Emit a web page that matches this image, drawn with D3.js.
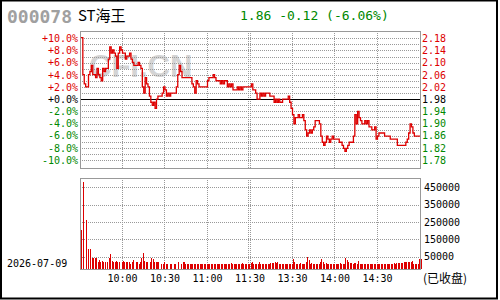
<!DOCTYPE html>
<html>
<head>
<meta charset="utf-8">
<script src="https://cdn.jsdelivr.net/npm/d3@7"></script>
<style>
  html, body { margin: 0; padding: 0; background: #fff; }
  svg { display: block; }
  text { font-family: "DejaVu Sans Mono", "Liberation Mono", monospace; }
</style>
</head>
<body>
<svg id="chart" width="500" height="300"></svg>
<script>
// quote header
const stockCode = '000078';
const stockName = 'ST海王';
const quoteText = '1.86 -0.12 (-6.06%)';
const tradeDate = '2026-07-09';
const prevClose = 1.98;

// time axis (minute index from 9:30, 241 minutes)
const timeLabels = ['10:00', '10:30', '11:00', '11:30', '13:30', '14:00', '14:30'];
const timeTickIdx = [30, 60, 90, 120, 150, 180, 210];

// price axis ticks
const pctTicks = [10, 8, 6, 4, 2, 0, -2, -4, -6, -8, -10];
const pctLabels = ['+10.0%', '+8.0%', '+6.0%', '+4.0%', '+2.0%', '+0.0%', '-2.0%', '-4.0%', '-6.0%', '-8.0%', '-10.0%'];
const priceLabels = ['2.18', '2.14', '2.10', '2.06', '2.02', '1.98', '1.94', '1.90', '1.86', '1.82', '1.78'];

// volume axis ticks
const volTicks = [450000, 350000, 250000, 150000, 50000];

// minute prices, 9:30 .. 11:30, 13:01 .. 15:00
const prices = [
  2.18, 2.18, 2.06, 2.03, 2.02, 2.02, 2.06, 2.07, 2.09, 2.06,
  2.06, 2.05, 2.08, 2.06, 2.05, 2.04, 2.08, 2.07, 2.08, 2.08,
  2.11, 2.15, 2.13, 2.14, 2.13, 2.12, 2.08, 2.13, 2.15, 2.14,
  2.13, 2.13, 2.11, 2.12, 2.12, 2.13, 2.11, 2.10, 2.09, 2.09,
  2.09, 2.10, 2.09, 2.08, 2.02, 2.00, 2.05, 2.03, 2.02, 1.99,
  1.97, 1.96, 1.97, 1.95, 1.98, 1.99, 1.99, 1.99, 2.00, 2.02,
  2.01, 1.99, 2.00, 1.99, 2.00, 2.00, 2.00, 2.00, 2.02, 2.06,
  2.09, 2.07, 2.05, 2.05, 2.05, 2.05, 2.05, 2.05, 2.05, 2.03,
  2.02, 2.00, 2.04, 2.03, 2.02, 2.02, 2.02, 2.02, 2.02, 2.02,
  2.04, 2.05, 2.05, 2.05, 2.06, 2.05, 2.04, 2.04, 2.04, 2.03,
  2.04, 2.03, 2.04, 2.04, 2.02, 2.03, 2.02, 2.03, 2.01, 2.01,
  2.01, 2.02, 2.01, 2.02, 2.01, 2.02, 2.02, 2.02, 2.02, 2.02,
  2.02, 2.03, 2.01, 2.01, 2.00, 1.98, 1.98, 2.00, 1.99, 2.00,
  1.99, 2.00, 2.00, 2.00, 1.99, 1.99, 1.99, 1.97, 1.98, 1.97,
  1.98, 1.97, 1.97, 1.98, 1.98, 1.98, 1.98, 1.99, 1.97, 1.95,
  1.93, 1.90, 1.92, 1.92, 1.93, 1.92, 1.92, 1.93, 1.91, 1.88,
  1.86, 1.87, 1.88, 1.87, 1.88, 1.89, 1.91, 1.91, 1.91, 1.90,
  1.86, 1.84, 1.83, 1.84, 1.86, 1.85, 1.84, 1.85, 1.86, 1.85,
  1.85, 1.85, 1.85, 1.84, 1.84, 1.83, 1.82, 1.81, 1.82, 1.83,
  1.84, 1.84, 1.84, 1.86, 1.93, 1.90, 1.94, 1.92, 1.91, 1.90,
  1.90, 1.91, 1.90, 1.91, 1.89, 1.89, 1.88, 1.88, 1.89, 1.85,
  1.86, 1.87, 1.87, 1.87, 1.87, 1.86, 1.86, 1.86, 1.86, 1.85,
  1.85, 1.85, 1.85, 1.85, 1.83, 1.83, 1.83, 1.83, 1.83, 1.83,
  1.84, 1.85, 1.87, 1.90, 1.89, 1.87, 1.86, 1.86, 1.86, 1.86,
  1.86
];

// minute volumes (shares)
const volumes = [
  204000, 0, 480000, 0, 261000, 93000, 0, 93000, 45000, 45000,
  42000, 45000, 22000, 33000, 22000, 27000, 22000, 18000, 0, 22000,
  45000, 68000, 27000, 22000, 22000, 27000, 18000, 18000, 0, 22000,
  27000, 18000, 18000, 18000, 18000, 10000, 22000, 33000, 0, 22000,
  22000, 10000, 22000, 45000, 73000, 27000, 18000, 18000, 0, 22000,
  45000, 39000, 22000, 18000, 18000, 18000, 0, 10000, 10000, 18000,
  10000, 10000, 0, 10000, 10000, 0, 10000, 10000, 0, 18000,
  0, 10000, 18000, 22000, 10000, 10000, 6000, 6000, 6000, 10000,
  10000, 10000, 10000, 10000, 10000, 6000, 10000, 10000, 6000, 10000,
  10000, 10000, 6000, 6000, 10000, 10000, 10000, 10000, 6000, 10000,
  10000, 10000, 10000, 6000, 10000, 10000, 12000, 10000, 10000, 6000,
  10000, 10000, 6000, 10000, 12000, 10000, 10000, 6000, 10000, 10000,
  12000, 22000, 6000, 10000, 10000, 10000, 22000, 10000, 6000, 6000,
  6000, 6000, 6000, 6000, 12000, 12000, 15000, 18000, 15000, 18000,
  6000, 6000, 6000, 10000, 10000, 10000, 10000, 6000, 10000, 10000,
  35000, 22000, 10000, 10000, 6000, 15000, 6000, 6000, 10000, 22000,
  50000, 33000, 10000, 15000, 10000, 10000, 10000, 6000, 6000, 22000,
  39000, 22000, 10000, 15000, 10000, 10000, 10000, 10000, 6000, 10000,
  10000, 10000, 10000, 15000, 10000, 10000, 10000, 45000, 33000, 22000,
  15000, 15000, 10000, 15000, 15000, 10000, 27000, 10000, 10000, 10000,
  10000, 10000, 10000, 10000, 10000, 6000, 6000, 10000, 10000, 10000,
  10000, 10000, 6000, 6000, 6000, 10000, 10000, 10000, 10000, 10000,
  10000, 15000, 10000, 15000, 15000, 15000, 15000, 15000, 18000, 18000,
  18000, 18000, 22000, 22000, 27000, 6000, 6000, 10000, 10000, 39000,
  39000
];

window.Chart = window.Chart || {};

Chart.init = function() {
    Chart.setup.initConst();
    Chart.setup.initScales();
    Chart.draw.frame();
    Chart.draw.header();
    Chart.draw.pricePanel();
    Chart.draw.volumePanel();
    Chart.draw.timeAxis();
};

Chart.setup = {
    initConst: function() {
        Chart.left = 80;
        Chart.right = 420;
        Chart.priceTop = 31;
        Chart.priceBottom = 168;
        Chart.volTop = 178;
        Chart.volBottom = 269;
        Chart.red = '#dd0000';
        Chart.green = '#008800';
        Chart.grid = '#999999';
        Chart.svg = d3.select('#chart');
    },

    initScales: function() {
        Chart.x = d3.scaleLinear().domain([0, 240]).range([Chart.left, Chart.right]);
        Chart.yPct = d3.scaleLinear().domain([-11.3, 11.2]).range([Chart.priceBottom, Chart.priceTop]);
        Chart.yVol = d3.scaleLinear().domain([-22500, 502000]).range([Chart.volBottom + 0.3, Chart.volTop + 0.3]);
    }
};

Chart.helpers = {
    crisp: function(v) {
        return Math.round(v) + 0.5;
    },

    pctColor: function(p) {
        if (p > 0) return Chart.red;
        if (p < 0) return Chart.green;
        return '#000';
    },

    dotted: function(g, x1, y1, x2, y2) {
        g.append('line')
            .attr('x1', x1).attr('y1', y1)
            .attr('x2', x2).attr('y2', y2)
            .attr('stroke', Chart.grid)
            .attr('stroke-width', 1)
            .attr('stroke-dasharray', '1,1');
    },

    vGrid: function(g, top, bottom) {
        timeTickIdx.forEach(function(t) {
            let xx = Chart.helpers.crisp(Chart.x(t)) - 1;
            if (t === 120) {
                Chart.helpers.dotted(g, xx - 1, top, xx - 1, bottom);
                Chart.helpers.dotted(g, xx + 1, top, xx + 1, bottom);
            } else {
                Chart.helpers.dotted(g, xx, top, xx, bottom);
            }
        });
    }
};

Chart.draw = {
    frame: function() {
        Chart.svg.append('rect')
            .attr('x', 1).attr('y', 0.5)
            .attr('width', 496).attr('height', 298)
            .attr('fill', 'none')
            .attr('stroke', '#000')
            .attr('stroke-width', 2);
    },

    header: function() {
        Chart.svg.append('text')
            .attr('x', 7).attr('y', 23)
            .attr('font-size', 18).attr('font-weight', 'bold')
            .attr('fill', '#a0a0a0')
            .text(stockCode);
        Chart.svg.append('text')
            .attr('x', 78).attr('y', 21)
            .style('font-family', '"Noto Sans CJK SC", sans-serif')
            .attr('font-size', 15)
            .attr('fill', '#000')
            .text(stockName);
        Chart.svg.append('text')
            .attr('x', 240).attr('y', 20)
            .attr('font-size', 13)
            .attr('fill', Chart.green)
            .text(quoteText);
    },

    pricePanel: function() {
        let g = Chart.svg.append('g');
        let h = Chart.helpers;

        // watermark
        g.append('text')
            .attr('x', 89).attr('y', 77)
            .style('font-family', '"Liberation Sans", Arial, sans-serif')
            .attr('font-size', 31).attr('font-weight', 'bold')
            .attr('fill', '#d4d4d4')
            .text('CFI.CN');

        // horizontal 1% grid
        d3.range(-10, 11).forEach(function(p) {
            if (p === 0) return;
            let yy = h.crisp(Chart.yPct(p));
            h.dotted(g, Chart.left, yy, Chart.right, yy);
        });
        h.vGrid(g, Chart.priceTop, Chart.priceBottom);

        // previous close line
        let y0 = h.crisp(Chart.yPct(0));
        g.append('line')
            .attr('x1', Chart.left).attr('x2', Chart.right)
            .attr('y1', y0).attr('y2', y0)
            .attr('stroke', '#000').attr('stroke-width', 1);

        // price line
        let line = d3.line()
            .x(function(d, i) { return Chart.x(i); })
            .y(function(d) { return Chart.yPct((d - prevClose) / prevClose * 100); })
            .curve(d3.curveStepAfter);
        g.append('path')
            .datum(prices)
            .attr('d', line)
            .attr('fill', 'none')
            .attr('stroke', Chart.red)
            .attr('stroke-width', 1.3);

        // border
        g.append('rect')
            .attr('x', Chart.left + 0.5).attr('y', Chart.priceTop + 0.5)
            .attr('width', Chart.right - Chart.left).attr('height', Chart.priceBottom - Chart.priceTop)
            .attr('fill', 'none').attr('stroke', Chart.grid).attr('stroke-width', 1);

        // left % labels, right price labels
        g.selectAll('.pct').data(pctTicks).enter().append('text')
            .attr('x', Chart.left - 2)
            .attr('y', function(d) { return Chart.yPct(d) + 3.7; })
            .attr('text-anchor', 'end')
            .attr('font-size', 10)
            .attr('fill', h.pctColor)
            .text(function(d, i) { return pctLabels[i]; });
        g.selectAll('.price').data(pctTicks).enter().append('text')
            .attr('x', Chart.right + 2)
            .attr('y', function(d) { return Chart.yPct(d) + 3.7; })
            .attr('font-size', 10)
            .attr('fill', h.pctColor)
            .text(function(d, i) { return priceLabels[i]; });
    },

    volumePanel: function() {
        let g = Chart.svg.append('g');
        let h = Chart.helpers;

        volTicks.forEach(function(v) {
            let yy = h.crisp(Chart.yVol(v));
            h.dotted(g, Chart.left, yy, Chart.right, yy);
        });
        h.vGrid(g, Chart.volTop, Chart.volBottom);

        g.selectAll('.bar').data(volumes).enter().append('rect')
            .attr('x', function(d, i) { return Math.floor(Chart.x(i)) + 1; })
            .attr('y', function(d) { return Chart.yVol(d); })
            .attr('width', 1)
            .attr('height', function(d) { return d > 0 ? Chart.yVol.range()[0] - Chart.yVol(d) : 0; })
            .attr('fill', Chart.red)
            .attr('shape-rendering', 'crispEdges');

        g.append('rect')
            .attr('x', Chart.left + 0.5).attr('y', Chart.volTop + 0.5)
            .attr('width', Chart.right - Chart.left).attr('height', Chart.volBottom - Chart.volTop)
            .attr('fill', 'none').attr('stroke', Chart.grid).attr('stroke-width', 1);

        g.selectAll('.vol').data(volTicks).enter().append('text')
            .attr('x', Chart.right + 4)
            .attr('y', function(d) { return Chart.yVol(d) + 3.7; })
            .attr('font-size', 10)
            .attr('fill', '#000')
            .text(function(d) { return d; });

        g.append('text')
            .attr('x', 7).attr('y', 267)
            .attr('font-size', 10)
            .text(tradeDate);
    },

    timeAxis: function() {
        Chart.svg.selectAll('.tl').data(timeTickIdx).enter().append('text')
            .attr('x', function(d) { return Chart.x(d); })
            .attr('y', 282)
            .attr('text-anchor', 'middle')
            .attr('font-size', 10)
            .text(function(d, i) { return timeLabels[i]; });

        Chart.svg.append('text')
            .attr('x', 423).attr('y', 283)
            .style('font-family', '"Noto Sans CJK SC", sans-serif')
            .attr('font-size', 12)
            .text('(已收盘)');
    }
};

Chart.init();
</script>
</body>
</html>
